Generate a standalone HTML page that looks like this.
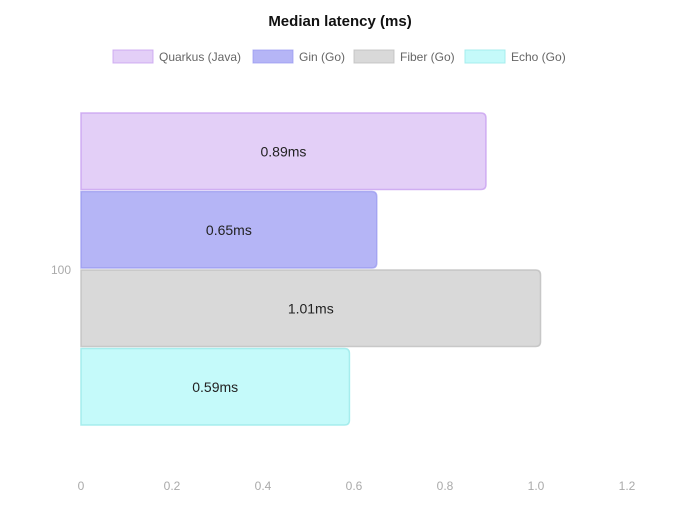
<!DOCTYPE html>
<html><head><meta charset="utf-8"><style>
body{margin:0;background:#fff;font-family:"Liberation Sans",sans-serif}
</style></head><body>
<svg id="c" width="680" height="500" xmlns="http://www.w3.org/2000/svg">
<text x="340" y="26" text-anchor="middle" font-size="15" font-weight="bold" fill="#111">Median latency (ms)</text>
</svg>
<script>
const seriesNames=["Quarkus (Java)","Gin (Go)","Fiber (Go)","Echo (Go)"];
const seriesValues=[0.89,0.65,1.01,0.59];
const valueLabels=["0.89ms","0.65ms","1.01ms","0.59ms"];
const categories=["100"];
const xTicks=[0,0.2,0.4,0.6,0.8,1.0,1.2];
const xTickLabels=["0","0.2","0.4","0.6","0.8","1.0","1.2"];
const fills=["rgba(200,160,240,0.5)","rgba(90,90,235,0.45)","rgba(180,180,180,0.5)","rgba(140,245,245,0.5)"];
const strokes=["rgba(200,160,240,0.8)","rgba(150,150,240,0.7)","rgba(190,190,190,0.8)","rgba(160,235,235,0.9)"];
const NS="http://www.w3.org/2000/svg";
const svg=document.getElementById('c');
const x0=81,x1=627,xmax=1.2;
const xs=v=>x0+(v/xmax)*(x1-x0);
const plotTop=113,bandH=314;
function mk(t,a){const e=document.createElementNS(NS,t);for(const k in a)e.setAttribute(k,a[k]);svg.appendChild(e);return e;}
const legX=[113,253,354,465];
seriesNames.forEach((n,i)=>{
  const r=mk('rect',{x:legX[i],y:50,width:40,height:13,fill:fills[i],stroke:strokes[i]});
  
  
  const t=mk('text',{x:legX[i]+46,y:61,'font-size':12,fill:'#666'});
  t.textContent=n;
  
  
});
xTicks.forEach((v,i)=>{
  const t=mk('text',{x:xs(v),y:490,'text-anchor':'middle','font-size':12,fill:'#aaa'});
  t.textContent=xTickLabels[i];
  
  
});
categories.forEach((c,ci)=>{
  const t=mk('text',{x:71,y:plotTop+bandH/2+4,'text-anchor':'end','font-size':12,fill:'#aaa'});
  t.textContent=c;
  
  
  const bh=bandH/seriesValues.length;
  seriesValues.forEach((v,i)=>{
    const y=plotTop+i*bh, h=bh-2, w=xs(v)-x0;
    const p=mk('path',{d:`M${x0},${y} H${x0+w-5} Q${x0+w},${y} ${x0+w},${y+5} V${y+h-5} Q${x0+w},${y+h} ${x0+w-5},${y+h} H${x0} Z`,fill:fills[i],stroke:strokes[i],'stroke-width':1.5});
    
    
    const t2=mk('text',{x:x0+w/2,y:y+h/2+5,'text-anchor':'middle','font-size':14,fill:'#222'});
    t2.textContent=valueLabels[i];
    
    
  });
});
</script>
</body></html>
